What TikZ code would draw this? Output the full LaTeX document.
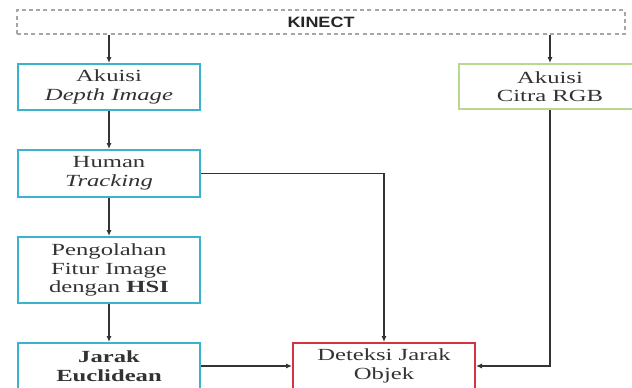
\documentclass[tikz,border=0pt]{standalone}
\usepackage{fontspec}
\setmainfont{Liberation Serif}[FakeStretch=1.45]
\setsansfont{Liberation Sans}[FakeStretch=1.2]
\usetikzlibrary{arrows.meta}

\definecolor{birutepi}{HTML}{3BB3CF}
\definecolor{hijautepi}{HTML}{B9D88F}
\definecolor{merahtepi}{HTML}{D2353F}
\definecolor{garis}{HTML}{333333}

\begin{document}
\begin{tikzpicture}[x=0.5pt,y=-0.5pt,
  blok/.style={draw=#1,line width=1pt,minimum width=91pt,inner sep=0pt,align=center,
    text=black!80,font=\fontsize{8.5}{9.3}\selectfont},
  panah/.style={-{Latex[length=3pt,width=2.6pt]},draw=garis,line width=0.7pt}]
  \useasboundingbox (0,0) rectangle (632,387);
  \clip (0,0) rectangle (632,387);
  % sumber data
  \node[draw=gray!70,dash pattern=on 2pt off 1.6pt,line width=0.8pt,minimum width=304pt,minimum height=12pt,
    text=black!85,font=\sffamily\bfseries\fontsize{7.5}{9}\selectfont] (kinect) at (321,22) {KINECT};
  % jalur kiri
  \node[blok=birutepi,minimum height=23pt] (depth) at (109,87) {Akuisi\\\textit{Depth Image}};
  \node[blok=birutepi,minimum height=23.5pt] (human) at (109,173.5) {Human\\\textit{Tracking}};
  \node[blok=birutepi,minimum height=33pt] (olah) at (109,270) {Pengolahan\\Fitur Image\\dengan \textbf{HSI}};
  \node[blok=birutepi,minimum height=23pt] (jarak) at (109,366) {\textbf{Jarak}\\\textbf{Euclidean}};
  % jalur kanan
  \node[blok=hijautepi,minimum height=22.5pt] (rgb) at (550,86.5) {Akuisi\\Citra RGB};
  \node[blok=merahtepi,minimum height=23pt] (deteksi) at (384,366) {Deteksi Jarak\\Objek};
  % panah
  \draw[panah] (kinect.south -| depth.north) -- (depth.north);
  \draw[panah] (kinect.south -| rgb.north) -- (rgb.north);
  \draw[panah] (depth.south) -- (human.north);
  \draw[panah] (human.south) -- (olah.north);
  \draw[panah] (olah.south) -- (jarak.north);
  \draw[panah] (human.east) -| (deteksi.north);
  \draw[panah] (jarak.east) -- (deteksi.west);
  \draw[panah] (rgb.south) |- (deteksi.east);
\end{tikzpicture}
\end{document}
